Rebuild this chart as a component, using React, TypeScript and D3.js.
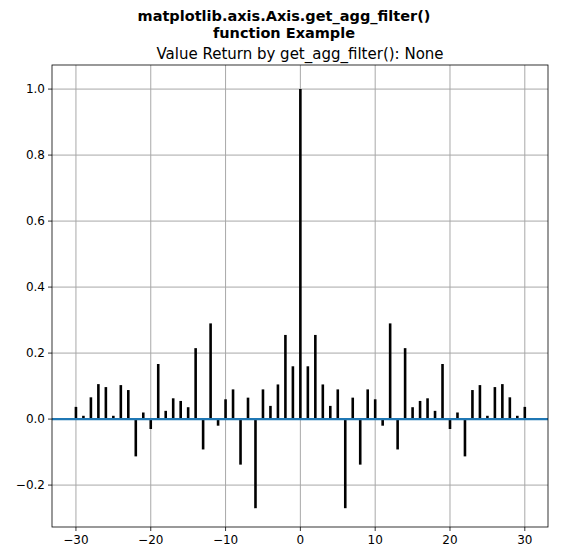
import React from "react";
import * as d3 from "d3";

const posVals = [0.16,0.255,0.105,0.04,0.09,-0.27,0.065,-0.138,0.09,0.06,-0.02,0.29,-0.092,0.215,0.036,0.055,0.063,0.025,0.167,-0.03,0.02,-0.113,0.088,0.103,0.01,0.097,0.106,0.066,0.01,0.037];
const lags = d3.range(-30, 31);
const values = lags.map(l => (l === 0 ? 1 : posVals[Math.abs(l) - 1]));
const xTicks = [-30, -20, -10, 0, 10, 20, 30];
const yTicks = [-0.2, 0, 0.2, 0.4, 0.6, 0.8, 1.0];

export default function App() {
  const L = 52, R = 548, T = 65, B = 527;
  const x = d3.scaleLinear().domain([-33.2, 33.1]).range([L, R]);
  const y = d3.scaleLinear().domain([-0.327, 1.073]).range([B, T]);
  const font = "DejaVu Sans, sans-serif";
  return (
    <svg width={568} height={560} style={{ position: "absolute", left: 0, top: 0 }} fontFamily={font}>
      <rect width={568} height={560} fill="white" />
      <text x={284} y={21} textAnchor="middle" fontSize={14.5} fontWeight="bold">matplotlib.axis.Axis.get_agg_filter()</text>
      <text x={284} y={38} textAnchor="middle" fontSize={14.5} fontWeight="bold">function Example</text>
      <text x={300} y={59} textAnchor="middle" fontSize={15}>Value Return by get_agg_filter(): None</text>
      {xTicks.map(t => (
        <g key={"x" + t}>
          <line x1={x(t)} x2={x(t)} y1={T} y2={B} stroke="#a8a8a8" strokeWidth={1} />
          <line x1={x(t)} x2={x(t)} y1={B} y2={B + 4} stroke="black" strokeWidth={0.8} />
          <text x={x(t)} y={B + 17} textAnchor="middle" fontSize={12}>{t === 0 ? "0" : t < 0 ? "\u2212" + (-t) : t}</text>
        </g>
      ))}
      {yTicks.map(t => (
        <g key={"y" + t}>
          <line x1={L} x2={R} y1={y(t)} y2={y(t)} stroke="#a8a8a8" strokeWidth={1} />
          <line x1={L - 4} x2={L} y1={y(t)} y2={y(t)} stroke="black" strokeWidth={0.8} />
          <text x={L - 7} y={y(t) + 4} textAnchor="end" fontSize={12}>{t < 0 ? "\u2212" + (-t).toFixed(1) : t.toFixed(1)}</text>
        </g>
      ))}
      {lags.map((l, i) => (
        <line key={l} x1={x(l)} x2={x(l)} y1={y(0)} y2={y(values[i])} stroke="black" strokeWidth={2.6} />
      ))}
      <line x1={L} x2={R} y1={y(0)} y2={y(0)} stroke="#1f77b4" strokeWidth={2.4} />
      <rect x={L} y={T} width={R - L} height={B - T} fill="none" stroke="black" strokeWidth={0.8} />
    </svg>
  );
}
